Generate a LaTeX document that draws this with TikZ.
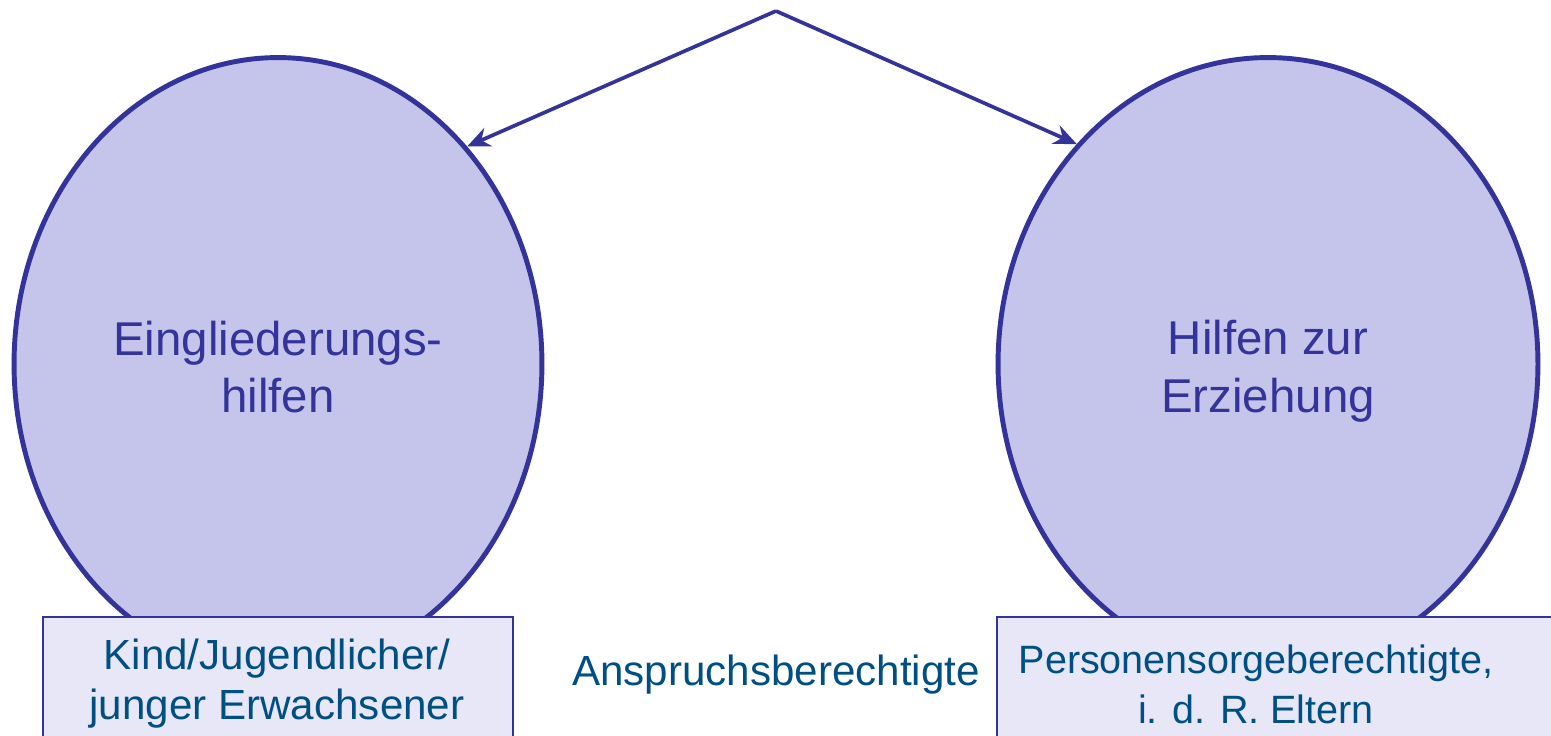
\documentclass[tikz,border=0pt]{standalone}
\usepackage{fontspec}
\setmainfont{Liberation Sans}
\usetikzlibrary{shapes.geometric,arrows.meta}

\definecolor{ringline}{HTML}{333399}
\definecolor{ringfill}{HTML}{C5C5EB}
\definecolor{boxfill}{HTML}{E7E7F7}
\definecolor{boxtext}{HTML}{004F82}

\tikzset{
  bubble/.style={ellipse, draw=ringline, fill=ringfill, line width=2.8pt,
    inner sep=0pt},
  bubbletext/.style={text=ringline, align=center,
    font=\fontsize{27}{32.8}\selectfont},
  holder/.style={draw=ringline, fill=boxfill, line width=0.9pt},
  holdertext/.style={text=boxtext, align=center,
    font=\fontsize{24}{28.4}\selectfont},
  pointer/.style={draw=ringline, line width=2.1pt,
    -{Stealth[length=0.46cm, width=0.40cm, inset=0.15cm]}}
}

\begin{document}
\begin{tikzpicture}[x=0.02cm, y=-0.02cm]
  \useasboundingbox (0,0) rectangle (1551,735);

  % the two kinds of help
  \node[bubble, minimum width=10.56cm, minimum height=12.26cm] (eh) at (278,364) {};
  \node[bubble, minimum width=10.80cm, minimum height=12.26cm] (hze) at (1268,364) {};

  % common origin of the two arrows
  \coordinate (top) at (776,11);
  \draw[pointer] (top) -- (eh.49);
  \draw[pointer] (top) -- (hze.131.6);

  \node[bubbletext] (ehtext) at (278,367) {Eingliederungs-\\hilfen};
  \node[bubbletext] (hzetext) at (1268,371) {Hilfen zur\\Erziehung};

  % entitled persons
  \draw[holder] (43,617) rectangle (513,760) coordinate (lbox);
  \draw[holder] (997,617) rectangle (1580,760) coordinate (rbox);

  \node[holdertext] (child) at (277,684) {Kind/Jugendlicher/\\junger Erwachsener};
  \node[holdertext, font=\fontsize{22.5}{28.4}\selectfont] (parents) at (1256,684) {Personensorgeberechtigte,\\i. d. R. Eltern};
  \node[holdertext] (label) at (776,675) {Anspruchsberechtigte};
\end{tikzpicture}
\end{document}
